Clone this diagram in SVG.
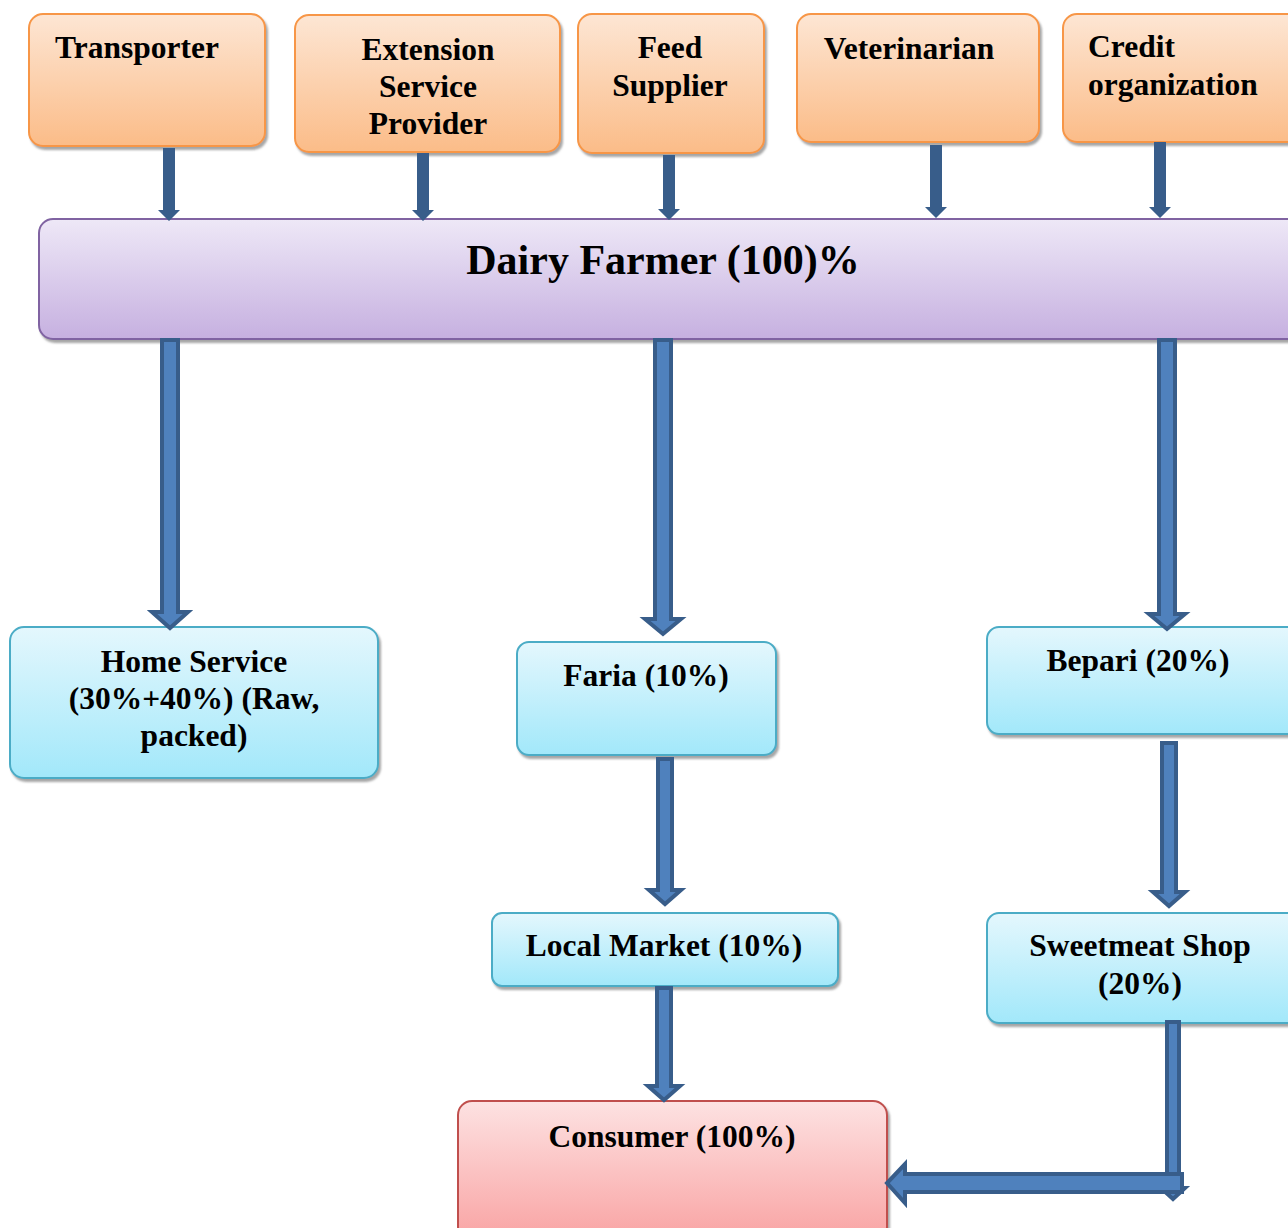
<svg xmlns="http://www.w3.org/2000/svg" width="1288" height="1228" viewBox="0 0 1288 1228">
<defs>
<linearGradient id="gOr" x1="0" y1="0" x2="0" y2="1"><stop offset="0" stop-color="#fde6d4"/><stop offset="1" stop-color="#fbbc88"/></linearGradient>
<linearGradient id="gPu" x1="0" y1="0" x2="0" y2="1"><stop offset="0" stop-color="#eee8f7"/><stop offset="1" stop-color="#c6b0e0"/></linearGradient>
<linearGradient id="gBl" x1="0" y1="0" x2="0" y2="1"><stop offset="0" stop-color="#e4f7fd"/><stop offset="1" stop-color="#a2e8fa"/></linearGradient>
<linearGradient id="gRd" x1="0" y1="0" x2="0" y2="1"><stop offset="0" stop-color="#fde2e2"/><stop offset="1" stop-color="#f9a3a3"/></linearGradient>
<filter id="sh" x="-5%" y="-5%" width="110%" height="120%"><feDropShadow dx="2" dy="3" stdDeviation="1.2" flood-color="#808080" flood-opacity="0.7"/></filter>
</defs>
<style>
.or{fill:url(#gOr);stroke:#f79646;stroke-width:2;filter:url(#sh)}
.pu{fill:url(#gPu);stroke:#8064a2;stroke-width:2;filter:url(#sh)}
.bl{fill:url(#gBl);stroke:#4bacc6;stroke-width:2;filter:url(#sh)}
.rd{fill:url(#gRd);stroke:#c0504d;stroke-width:2;filter:url(#sh)}
text{font-family:"Liberation Serif","Times New Roman",serif;font-weight:bold;fill:#000;font-size:31.5px}
.c{text-anchor:middle}
.sm{fill:#385d8a;stroke:none}
.big{fill:#4f81bd;stroke:#385d8a;stroke-width:4;stroke-linejoin:miter}
</style>
<rect width="1288" height="1228" fill="#fff"/>
<g id="transporter"><rect class="or" x="29" y="14" width="236" height="132" rx="14"/><text x="55" y="58">Transporter</text></g>
<g id="extension"><rect class="or" x="295" y="15" width="265" height="137" rx="14"/><text class="c" x="428" y="60">Extension</text><text class="c" x="428" y="97">Service</text><text class="c" x="428" y="134">Provider</text></g>
<g id="feed"><rect class="or" x="578" y="14" width="186" height="139" rx="14"/><text class="c" x="670" y="58">Feed</text><text class="c" x="670" y="96">Supplier</text></g>
<g id="vet"><rect class="or" x="797" y="14" width="242" height="128" rx="14"/><text class="c" x="909" y="59">Veterinarian</text></g>
<g id="credit"><rect class="or" x="1063" y="14" width="240" height="128" rx="14"/><text x="1088" y="57">Credit</text><text x="1088" y="95">organization</text></g>
<g id="farmer"><rect class="pu" x="39" y="219" width="1265" height="120" rx="14"/><text class="c" x="663" y="274" style="font-size:42px">Dairy Farmer (100)%</text></g>
<g id="home"><rect class="bl" x="10" y="627" width="368" height="151" rx="14"/><text class="c" x="194" y="672">Home Service</text><text class="c" x="194" y="709">(30%+40%) (Raw,</text><text class="c" x="194" y="746">packed)</text></g>
<g id="faria"><rect class="bl" x="517" y="642" width="259" height="113" rx="12"/><text class="c" x="646" y="686">Faria (10%)</text></g>
<g id="bepari"><rect class="bl" x="987" y="627" width="316" height="107" rx="12"/><text class="c" x="1138" y="671">Bepari (20%)</text></g>
<g id="local"><rect class="bl" x="492" y="913" width="346" height="73" rx="10"/><text class="c" x="664" y="956">Local Market (10%)</text></g>
<g id="sweet"><rect class="bl" x="987" y="913" width="316" height="110" rx="12"/><text class="c" x="1140" y="956">Sweetmeat Shop</text><text class="c" x="1140" y="994">(20%)</text></g>
<g id="consumer"><rect class="rd" x="458" y="1101" width="429" height="140" rx="14"/><text class="c" x="672" y="1147">Consumer (100%)</text></g>
<g id="connectors">
<path class="sm" d="M163 148H175V210H180L169 221L158 210H163Z"/>
<path class="sm" d="M417 153H429V210H434L423 221L412 210H417Z"/>
<path class="sm" d="M663 155H675V209H680L669 220L658 209H663Z"/>
<path class="sm" d="M930 145H942V207H947L936 218L925 207H930Z"/>
<path class="sm" d="M1154 142H1166V207H1171L1160 218L1149 207H1154Z"/>
<path class="big" d="M162 340H178V612H188L170 628L152 612H162Z"/>
<path class="big" d="M655 340H671V619H681L663 634L645 619H655Z"/>
<path class="big" d="M1159 340H1175V614H1185L1167 629L1149 614H1159Z"/>
<path class="big" d="M658 759H672V890H681L665 904L649 890H658Z"/>
<path class="big" d="M1162 743H1176V892H1185L1169 906L1153 892H1162Z"/>
<path class="big" d="M657 988H671V1086H680L664 1100L648 1086H657Z"/>
<path class="big" d="M1167 1022H1179V1188H1185L1173 1199L1161 1188H1167Z"/>
<path class="big" d="M1182 1174V1192H905V1203L887 1183L905 1164V1174Z"/>
</g>
</svg>
